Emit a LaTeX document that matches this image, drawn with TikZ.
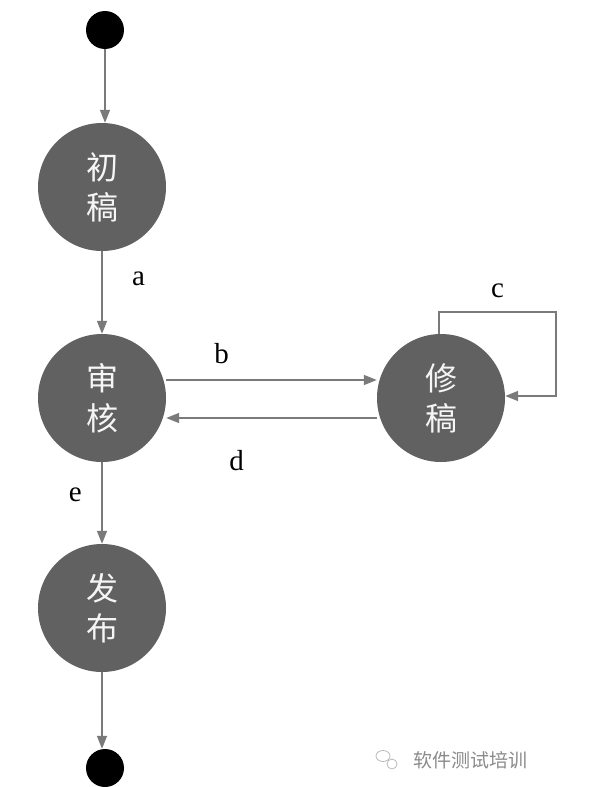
\documentclass[tikz,border=0pt]{standalone}
\usepackage{fontspec}
\newfontfamily\cjk{Noto Sans CJK SC}
\setmainfont{Liberation Serif}
\usetikzlibrary{arrows.meta,shapes.geometric}
\definecolor{stategray}{HTML}{616161}
\definecolor{linegray}{HTML}{7A7A7A}
\definecolor{wmgray}{HTML}{8A8A8A}
\tikzset{
  state/.style={circle, fill=stategray, minimum size=128pt, inner sep=0pt, text=white!92!gray, font=\cjk\fontsize{32}{40}\selectfont, align=center},
  terminal/.style={circle, fill=black, minimum size=38pt, inner sep=0pt},
  conn/.style={draw=linegray, line width=1.6pt, -{Triangle[length=13pt,width=10pt,fill=linegray]}},
  lbl/.style={font=\fontsize{29}{30}\selectfont}
}
\begin{document}
\begin{tikzpicture}[x=1pt,y=-1pt]
\useasboundingbox (0,0) rectangle (609,787);
\node[terminal] (start) at (105,30) {};
\node[state] (s1) at (102,187) {初\\稿};
\node[state] (s2) at (102,398) {审\\核};
\node[state] (s3) at (441,398) {修\\稿};
\node[state] (s4) at (102,608) {发\\布};
\node[terminal] (end) at (105,768) {};
\draw[conn] (start) -- (start |- s1.north);
\draw[conn] (s1) -- node[lbl, right=26pt, pos=0.33] {a} (s2);
\draw[conn] ([yshift=18pt]s2.east) -- node[lbl, above=12pt, xshift=-50pt] {b} ([yshift=18pt]s2.east -| s3.west);
\draw[conn] ([yshift=-20pt]s3.west) -- node[lbl, below=28pt, xshift=-35pt] {d} ([yshift=-20pt]s3.west -| s2.east);
\coordinate (c1) at (439,312);
\coordinate (c2) at (556,312);
\coordinate (c3) at (556,396);
\draw[conn] (s3.north -| c1) -- (c1) -- node[lbl, above=10pt, pos=0.5] {c} (c2) -- (c3) -- (c3 -| s3.east);
\draw[conn] (s2) -- node[lbl, left=16pt, pos=0.4] {e} (s4);
\draw[conn] (s4) -- (s4 |- end.north);
\node[font=\cjk\fontsize{19}{22}\selectfont, text=wmgray, anchor=west] (wm) at (410,760) {软件测试培训};
\node[draw=wmgray!60, line width=0.8pt, ellipse, minimum width=14pt, minimum height=11pt, inner sep=0pt] (wmicon1) at (383,756) {};
\node[draw=wmgray!60, line width=0.8pt, circle, minimum size=10pt, inner sep=0pt] (wmicon2) at (392,764) {};
\end{tikzpicture}
\end{document}
